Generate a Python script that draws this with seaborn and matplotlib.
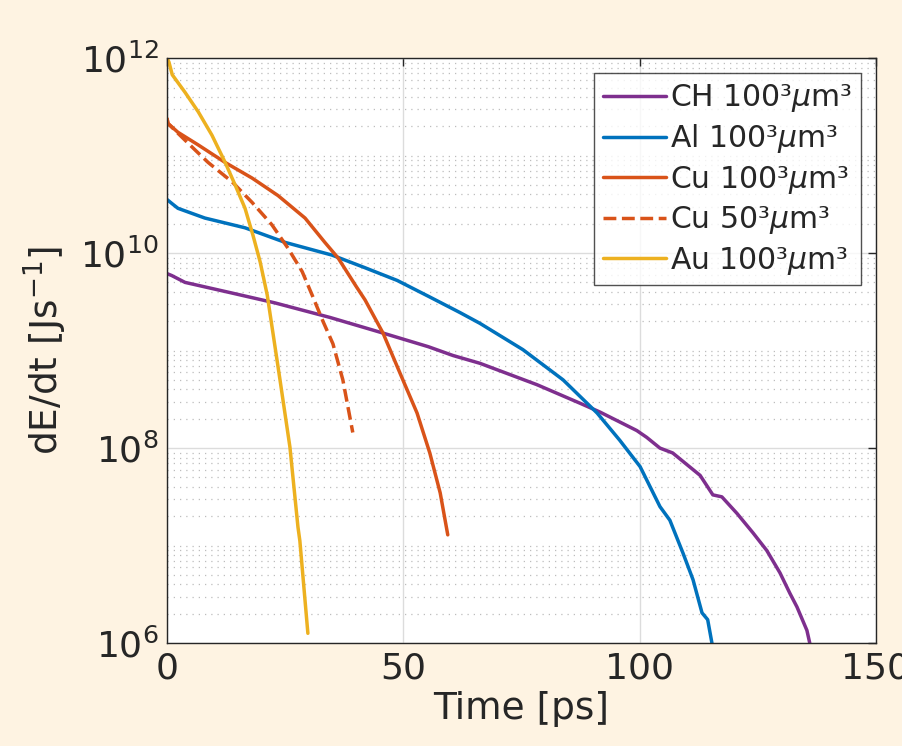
# Energy loss rate dE/dt versus time for different target materials (log scale, MATLAB-like look)
import matplotlib.pyplot as plt
import matplotlib.ticker as mticker
import seaborn as sns
import numpy as np

OUTPUT_FILE = "out.png"

sns.set_theme(style="white")
plt.rcParams["font.family"] = ["DejaVu Sans"]

# Time [ps] and log10(dE/dt)
ch_t = [0, 1.0, 3.8, 13.8, 22.8, 34.5, 45.7, 55.3, 60.5, 66.2, 78.3, 87.4, 91.6, 99.4,
        101.5, 104.3, 107.0, 112.8, 115.5, 117.4, 120.6, 124.0, 126.9, 129.7, 131.8, 133.3, 135.4, 136.0]
ch_log = [9.79, 9.77, 9.70, 9.59, 9.49, 9.34, 9.18, 9.04, 8.95, 8.87, 8.65, 8.46, 8.37, 8.18,
          8.11, 8.00, 7.95, 7.72, 7.52, 7.50, 7.33, 7.13, 6.95, 6.72, 6.51, 6.37, 6.13, 6.0]

al_t = [0, 1.0, 2.3, 8.0, 16.5, 25.0, 34.9, 41.9, 48.7, 55.6, 62.0, 66.2, 75.3, 83.8, 91.0, 95.8,
        100.1, 104.3, 106.4, 109.2, 111.3, 113.2, 114.4, 115.3]
al_log = [10.55, 10.51, 10.46, 10.36, 10.26, 10.11, 9.98, 9.85, 9.72, 9.55, 9.39, 9.28, 9.01, 8.70, 8.36, 8.08,
          7.81, 7.40, 7.26, 6.92, 6.65, 6.31, 6.24, 6.0]

cu100_t = [0, 0.2, 2.3, 6.6, 12.3, 18.0, 23.5, 29.2, 33.4, 36.2, 40.0, 41.9, 45.7, 49.9, 52.9, 55.6, 57.8, 59.4]
cu100_log = [11.38, 11.33, 11.24, 11.11, 10.93, 10.77, 10.59, 10.36, 10.11, 9.95, 9.66, 9.52, 9.18, 8.70, 8.36, 7.95, 7.54, 7.11]

cu50_t = [0, 0.2, 2.3, 5.9, 8.7, 13.8, 18.0, 22.2, 25.6, 28.6, 30.7, 33.0, 35.1, 37.2, 39.3]
cu50_log = [11.38, 11.33, 11.23, 11.06, 10.93, 10.73, 10.52, 10.29, 10.05, 9.81, 9.57, 9.30, 9.07, 8.70, 8.16]

au_t = [0, 0.4, 1.1, 3.8, 6.6, 9.5, 12.3, 14.4, 16.5, 18.2, 19.7, 21.2, 23.9, 26.0, 27.7, 28.1, 29.8]
au_log = [12.0, 11.96, 11.83, 11.65, 11.45, 11.21, 10.93, 10.70, 10.46, 10.18, 9.91, 9.57, 8.70, 8.01, 7.19, 7.05, 6.10]

labels = ["CH 100³$\\mu$m³", "Al 100³$\\mu$m³", "Cu 100³$\\mu$m³", "Cu 50³$\\mu$m³", "Au 100³$\\mu$m³"]

fig = plt.figure(figsize=(9.03, 7.46), dpi=100)
fig.patch.set_facecolor("#FEF3E2")
ax = fig.add_axes([0.185, 0.138, 0.785, 0.784])
ax.set_facecolor("white")

series = [
    (ch_t, ch_log, "#7E2F8E", "-"),
    (al_t, al_log, "#0072BD", "-"),
    (cu100_t, cu100_log, "#D95319", "-"),
    (cu50_t, cu50_log, "#D95319", "--"),
    (au_t, au_log, "#EDB120", "-"),
]
for (t, lg, col, ls), lab in zip(series, labels):
    sns.lineplot(x=t, y=10 ** np.array(lg), color=col, linestyle=ls, linewidth=2.5,
                 label=lab, sort=False, estimator=None, ax=ax)

ax.set_yscale("log")
ax.set_xlim(0, 150)
ax.set_ylim(1e6, 1e12)
ax.set_xticks([0, 50, 100, 150])
ax.yaxis.set_major_locator(mticker.FixedLocator([1e6, 1e8, 1e10, 1e12]))
ax.yaxis.set_minor_locator(mticker.LogLocator(base=10, subs=np.arange(1, 10), numticks=20))
ax.yaxis.set_minor_formatter(mticker.NullFormatter())

ax.grid(True, which="major", color="#DCDCDC", linewidth=1, linestyle="-")
ax.grid(True, which="minor", axis="y", color="#BDBDBD", linewidth=0.9, linestyle=(0, (1, 4)))
ax.set_axisbelow(True)

ax.tick_params(axis="both", which="major", direction="in", length=6, width=1,
               labelsize=26, colors="#262626", top=True, right=True, pad=6)
ax.tick_params(axis="y", which="minor", length=0)
for sp in ax.spines.values():
    sp.set_color("#262626")
    sp.set_linewidth(1)

ax.set_xlabel("Time [ps]", fontsize=27, color="#262626", labelpad=4)
ax.set_ylabel("dE/dt [Js$^{-1}$]", fontsize=27, color="#262626", labelpad=8)

leg = ax.legend(loc="upper right", fontsize=21.5, frameon=True, fancybox=False,
                edgecolor="#262626", handlelength=2.1, handletextpad=0.12,
                labelspacing=0.28, borderpad=0.3, borderaxespad=0.5)
leg.get_frame().set_linewidth(1)

plt.savefig(OUTPUT_FILE, dpi=100, facecolor=fig.get_facecolor())
plt.close()
